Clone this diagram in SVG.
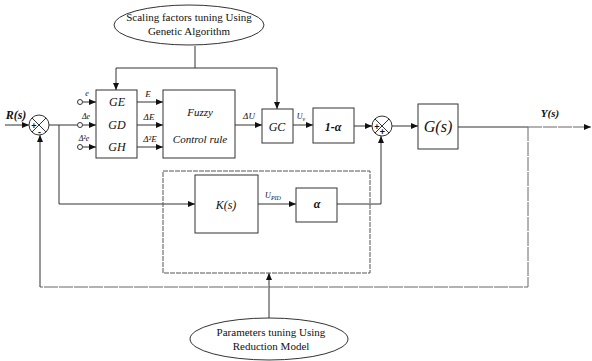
<svg xmlns="http://www.w3.org/2000/svg" width="592" height="361" viewBox="0 0 592 361">
<style>
.box{fill:#fff;stroke:#333;stroke-width:1}
.dash{fill:none;stroke:#555;stroke-width:1;stroke-dasharray:5 1}
.ln{fill:none;stroke:#333;stroke-width:1}
.lnd{fill:none;stroke:#666;stroke-width:1;stroke-dasharray:14 1}
.ar{marker-end:url(#ah)}
.t{font-family:"Liberation Serif",serif;font-style:italic;fill:#111;text-anchor:middle}
.tb{font-family:"Liberation Serif",serif;font-style:italic;font-weight:bold;fill:#111;text-anchor:middle}
.sg{font-family:"Liberation Sans",sans-serif;font-weight:bold;fill:#111;text-anchor:middle;font-size:9px}
.te{font-family:"Liberation Serif",serif;fill:#111;text-anchor:middle;font-size:11px}
.sm{font-family:"Liberation Serif",serif;font-style:italic;fill:#111;text-anchor:middle;font-size:8px}
.io{fill:#fff;stroke:#333;stroke-width:1}
</style>
<defs>
<marker id="ah" markerWidth="8" markerHeight="6" refX="7" refY="3" orient="auto" markerUnits="userSpaceOnUse">
<path d="M0,0 L7,3 L0,6 z" fill="#111"/>
</marker>
</defs>

<g id="connectors">
<path class="ln ar" d="M5,125 H29"/>
<path class="ln" d="M49,125 H77"/>
<path class="ln ar" d="M59,125 V204 H195"/>
<path class="ln ar" d="M83,102 H96"/>
<path class="ln ar" d="M83,125 H96"/>
<path class="ln ar" d="M83,147 H96"/>
<path class="ln ar" d="M137,102 H163"/>
<path class="ln ar" d="M137,125 H163"/>
<path class="ln ar" d="M137,147 H163"/>
<path class="ln" d="M195,46 V68"/>
<path class="ln ar" d="M116,68 H277 V109"/>
<path class="ln ar" d="M116,68 V90"/>
<path class="ln ar" d="M235,125 H262"/>
<path class="ln ar" d="M293,125 H313"/>
<path class="ln ar" d="M354,126 H372"/>
<path class="ln ar" d="M392,126 H418"/>
<path class="ln" d="M458,127 H528"/>
<path class="lnd ar" d="M528,127 H591"/>
<path class="lnd" d="M528,127 V287 H40"/>
<path class="ln ar" d="M40,287 V135"/>
<path class="ln ar" d="M258,204 H296"/>
<path class="ln" d="M337,204 H381"/>
<path class="ln ar" d="M381,204 V136"/>
<path class="ln ar" d="M269,318 V273"/>
</g>

<g id="scaling">
<ellipse cx="189" cy="25" rx="75" ry="20" fill="#fff" stroke="#333"/>
<text class="te" x="189" y="21">Scaling factors tuning  Using</text>
<text class="te" x="189" y="35">Genetic Algorithm</text>
</g>

<g id="sum1">
<circle cx="39" cy="125" r="10" fill="#fff" stroke="#333"/>
<path class="ln" d="M32,118 L46,132 M46,118 L32,132"/>
<text class="sg" x="34" y="128.5">+</text>
<text class="sg" x="39.5" y="134.5">-</text>
<text class="tb" x="16" y="119" style="font-size:12px">R(s)</text>
</g>

<g id="inputs">
<circle class="io" cx="80" cy="102" r="2.5"/>
<circle class="io" cx="80" cy="125" r="2.5"/>
<circle class="io" cx="80" cy="147" r="2.5"/>
<text class="sm" x="87" y="96">e</text>
<text class="sm" x="86" y="119">Δe</text>
<text class="sm" x="84" y="141">Δ²e</text>
</g>

<g id="gains">
<rect class="box" x="96" y="90" width="41" height="68"/>
<text class="t" x="117" y="106" style="font-size:12px">GE</text>
<text class="t" x="117" y="129" style="font-size:12px">GD</text>
<text class="t" x="117" y="151" style="font-size:12px">GH</text>
<text class="sm" x="148" y="97" style="font-size:9px">E</text>
<text class="sm" x="149" y="120" style="font-size:9px">ΔE</text>
<text class="sm" x="150" y="142" style="font-size:9px">Δ²E</text>
</g>

<g id="fuzzy">
<rect class="box" x="163" y="90" width="72" height="68"/>
<text class="t" x="200" y="116" style="font-size:11px">Fuzzy</text>
<text class="t" x="200" y="143" style="font-size:11px">Control rule</text>
<text class="sm" x="249" y="119" style="font-size:9px">ΔU</text>
</g>

<g id="gc">
<rect class="box" x="262" y="109" width="31" height="34"/>
<text class="t" x="277" y="131" style="font-size:12px">GC</text>
<text class="sm" x="301" y="119">U<tspan font-size="6" dy="2">v</tspan></text>
</g>

<g id="one-minus-a">
<rect class="box" x="313" y="108" width="41" height="35"/>
<text class="tb" x="333" y="131" style="font-size:12px">1-α</text>
</g>

<g id="sum2">
<circle cx="382" cy="126" r="10" fill="#fff" stroke="#333"/>
<path class="ln" d="M375,119 L389,133 M389,119 L375,133"/>
<text class="sg" x="377" y="129.5">+</text>
<text class="sg" x="382.5" y="135">+</text>
</g>

<g id="plant">
<rect class="box" x="418" y="104" width="40" height="45"/>
<text class="t" x="438" y="132" style="font-size:16px">G(s)</text>
<text class="tb" x="550" y="117" style="font-size:11px">Y(s)</text>
</g>

<g id="pid-group">
<rect class="dash" x="163" y="171" width="207" height="102"/>
</g>

<g id="ks">
<rect class="box" x="195" y="175" width="63" height="58"/>
<text class="t" x="226" y="209" style="font-size:12px">K(s)</text>
<text class="sm" x="273" y="198">U<tspan font-size="6" dy="2">PID</tspan></text>
</g>

<g id="q">
<rect class="box" x="296" y="188" width="41" height="34"/>
<text class="tb" x="317" y="208" style="font-size:12px">α</text>
</g>

<g id="params">
<ellipse cx="269" cy="339" rx="79" ry="21" fill="#fff" stroke="#333"/>
<text class="te" x="271" y="336">Parameters  tuning  Using</text>
<text class="te" x="271" y="350">Reduction Model</text>
</g>
</svg>
